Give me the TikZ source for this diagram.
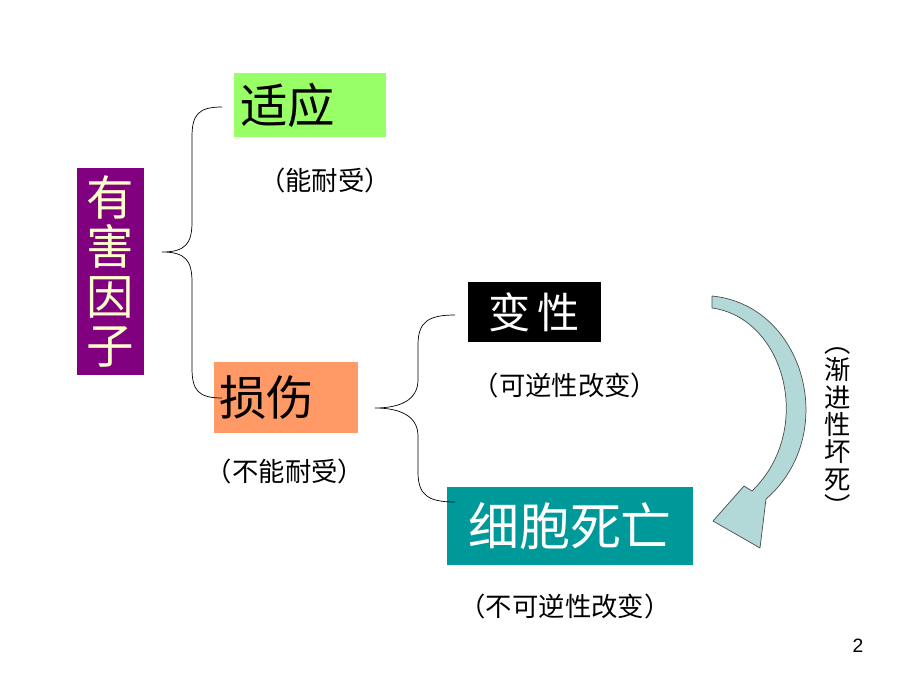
\documentclass[tikz,border=0pt]{standalone}
\usepackage{fontspec}
\setmainfont{Liberation Sans}
\newfontfamily\cjk{Noto Sans CJK SC}
\usetikzlibrary{positioning}
\definecolor{harmpurple}{RGB}{128,0,128}
\definecolor{adaptgreen}{RGB}{153,255,102}
\definecolor{injuryorange}{RGB}{255,153,102}
\definecolor{deathteal}{RGB}{0,153,153}
\definecolor{cream}{RGB}{255,255,204}
\definecolor{arrowfill}{RGB}{178,216,216}

\begin{document}
\begin{tikzpicture}[
    x=0.02cm, y=-0.02cm,
    box/.style={inner sep=0pt, font=\cjk\fontsize{27}{30}\selectfont},
    note/.style={font=\cjk\fontsize{15}{18}\selectfont},
    brace/.style={draw=black, thin}
]
    \useasboundingbox (0,0) rectangle (920,690);

    % Boxes
    \node[box, fill=harmpurple, text=cream, minimum width=67*0.02cm, minimum height=207*0.02cm, align=center,
          font=\cjk\fontsize{27}{28}\selectfont] (harm) at (110.5,271.5) {有\\害\\因\\子};
    \node[box, fill=adaptgreen, minimum width=152*0.02cm, minimum height=64*0.02cm, text width=140*0.02cm] (adapt) at (310,105) {适应};
    \node[box, fill=injuryorange, minimum width=144*0.02cm, minimum height=71*0.02cm, text width=134*0.02cm] (injury) at (286,397.5) {损伤};
    \node[box, fill=black, text=white, minimum width=133*0.02cm, minimum height=60*0.02cm,
          font=\cjk\fontsize{24}{28}\selectfont] (degen) at (534.5,312) {变\,性};
    \node[box, fill=deathteal, text=white, minimum width=246*0.02cm, minimum height=78*0.02cm,
          font=\cjk\fontsize{29}{32}\selectfont] (death) at (570,526) {细胞死亡};

    % Notes
    \node[note] (adaptnote) at (325,180) {（能耐受）};
    \node[note] (injurynote) at (285,471) {（不能耐受）};
    \node[note] (degennote) at (565,385) {（可逆性改变）};
    \node[note] (deathnote) at (565,606) {（不可逆性改变）};
    \node[note, align=center, font=\cjk\fontsize{15}{15.6}\selectfont] (gradual) at (838,432) {︵\\渐\\进\\性\\坏\\死\\︶};
    \node[font=\fontsize{11}{13}\selectfont] (page) at (858,646) {2};

    % Braces
    \draw[brace] (222,107) .. controls (198,107) and (192,115) .. (192,137) -- (192,222)
        .. controls (192,244) and (185,252) .. (162,252)
        .. controls (185,252) and (192,260) .. (192,282) -- (192,368)
        .. controls (192,390) and (198,398) .. (222,398);
    \draw[brace] (455,315) .. controls (428,315) and (418,322) .. (418,345) -- (418,380)
        .. controls (418,400) and (400,408) .. (375,408)
        .. controls (400,408) and (418,416) .. (418,436) -- (418,472)
        .. controls (418,495) and (428,502) .. (455,502);

    % Curved arrow
    \draw[fill=arrowfill, draw=black!70, line join=round] (712,296)
        .. controls (805,305) and (840,435) .. (766,499)
        -- (760,548) -- (713,521) -- (744,486) -- (752,491)
        .. controls (815,430) and (785,318) .. (712,308) -- cycle;
\end{tikzpicture}
\end{document}
